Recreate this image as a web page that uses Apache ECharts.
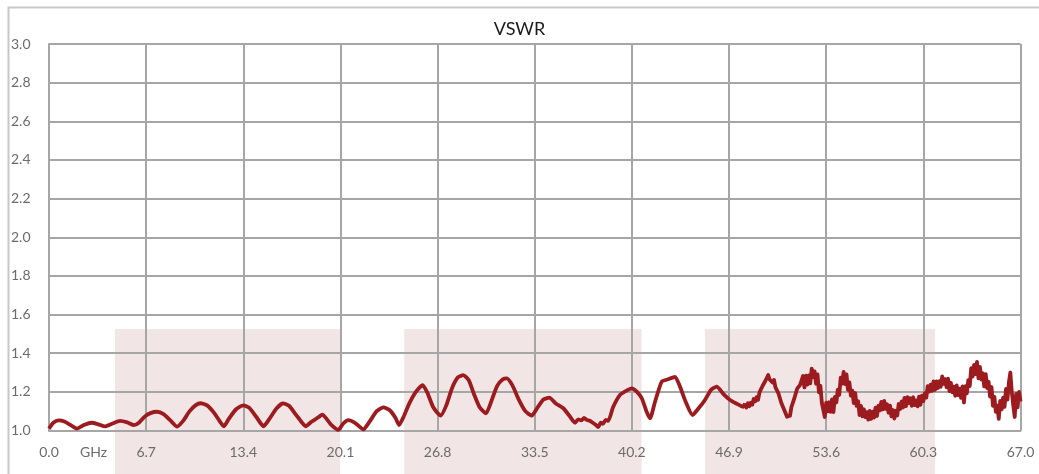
<!DOCTYPE html>
<html>
<head>
<meta charset="utf-8">
<title>VSWR</title>
<script src="https://cdn.jsdelivr.net/npm/echarts@6/dist/echarts.min.js"></script>
<style>
  html, body { margin: 0; padding: 0; background: #fff; }
  #chart { width: 1039px; height: 474px; }
</style>
</head>
<body>
<div id="chart"></div>
<script>
// x ticks (GHz)
var xTicks = [0.0, 6.7, 13.4, 20.1, 26.8, 33.5, 40.2, 46.9, 53.6, 60.3, 67.0];
// pink bands: [start GHz, end GHz, top VSWR]
var bands = [
  [4.55, 20.07, 1.525],
  [24.5, 40.87, 1.525],
  [45.24, 61.1, 1.525]
];
// measured VSWR read off the picture, [GHz, VSWR]
// lower part, fairly clean trace
var vswrLow = [
  [0.00,1.010],[0.30,1.040],[0.66,1.052],[1.10,1.045],[1.55,1.025],[1.93,1.010],[2.40,1.028],[2.94,1.040],
  [3.40,1.032],[3.86,1.021],[4.35,1.035],[4.90,1.050],[5.40,1.042],[5.86,1.028],[6.20,1.040],[6.60,1.072],
  [7.00,1.090],[7.45,1.097],[7.90,1.085],[8.40,1.050],[8.83,1.020],[9.25,1.050],[9.70,1.100],[10.10,1.130],
  [10.45,1.141],[10.90,1.130],[11.40,1.090],[11.80,1.045],[12.05,1.022],[12.40,1.060],[12.90,1.110],[13.40,1.130],
  [13.80,1.118],[14.30,1.070],[14.79,1.022],[15.20,1.060],[15.70,1.115],[16.14,1.140],[16.55,1.128],[17.00,1.085],
  [17.40,1.045],[17.70,1.022],[18.10,1.045],[18.60,1.070],[18.85,1.082],[19.15,1.060],[19.45,1.030],[19.95,1.003],
  [20.28,1.035],[20.64,1.054],[21.10,1.040],[21.68,1.006],[22.10,1.045],[22.60,1.100],[23.06,1.120],[23.50,1.105],
  [23.90,1.065],[24.14,1.028],[24.45,1.070],[24.85,1.140],[25.30,1.200],[25.77,1.235],[26.10,1.195],[26.50,1.120],
  [27.01,1.077],[27.40,1.130],[27.80,1.220],[28.20,1.275],[28.57,1.287],[28.95,1.260],[29.30,1.190],[29.70,1.120],
  [30.14,1.089],[30.50,1.150],[30.90,1.230],[31.30,1.265],[31.57,1.270],[31.95,1.235],[32.40,1.160],[32.85,1.100],
  [33.29,1.077],[33.70,1.120],[34.10,1.160],[34.50,1.170],[34.95,1.140],[35.47,1.115],[35.90,1.075],[36.28,1.040],
  [36.50,1.058],[36.70,1.052],[36.90,1.065],[37.08,1.055],[37.30,1.050],[37.50,1.040],[37.70,1.030],[37.88,1.018],
  [38.05,1.040],[38.20,1.035],[38.40,1.055],[38.57,1.050],[38.90,1.120],[39.38,1.184],
  [39.80,1.205],[40.19,1.218],[40.55,1.200],[40.88,1.167],[41.20,1.100],[41.45,1.063],[41.80,1.150],[42.26,1.253],
  [42.70,1.265],[43.17,1.278],[43.50,1.230],[43.90,1.150],[44.38,1.080],[44.80,1.115],[45.24,1.158],[45.65,1.210],
  [46.05,1.227],[46.50,1.190],[46.97,1.158],[47.40,1.140],[47.88,1.123],[48.00,1.140]
];
// upper part, noisy trace
var vswrHigh = [
  [48.0,1.140],[48.1,1.119],[48.2,1.141],[48.3,1.126],[48.4,1.144],[48.5,1.133],[48.6,1.163],[48.7,1.151],
  [48.8,1.172],[48.9,1.159],[49.0,1.197],[49.1,1.192],[49.2,1.229],[49.3,1.229],[49.4,1.256],[49.5,1.251],
  [49.6,1.287],[49.7,1.264],[49.8,1.273],[49.9,1.248],[50.0,1.262],[50.1,1.223],[50.2,1.227],[50.3,1.194],
  [50.4,1.185],[50.5,1.144],[50.6,1.144],[50.7,1.107],[50.8,1.105],[50.9,1.071],[51.0,1.074],[51.1,1.076],
  [51.2,1.121],[51.3,1.129],[51.4,1.166],[51.5,1.171],[51.6,1.217],[51.7,1.211],[51.8,1.236],[51.9,1.229],
  [52.0,1.282],[52.1,1.223],[52.2,1.284],[52.3,1.237],[52.4,1.285],[52.5,1.244],[52.6,1.320],[52.7,1.276],
  [52.8,1.306],[52.9,1.242],[53.0,1.290],[53.1,1.197],[53.2,1.231],[53.3,1.143],[53.4,1.151],[53.5,1.070],
  [53.6,1.144],[53.7,1.099],[53.8,1.146],[53.9,1.097],[54.0,1.161],[54.1,1.095],[54.2,1.174],[54.3,1.145],
  [54.4,1.211],[54.5,1.184],[54.6,1.273],[54.7,1.242],[54.8,1.303],[54.9,1.240],[55.0,1.290],[55.1,1.210],
  [55.2,1.249],[55.3,1.180],[55.4,1.206],[55.5,1.142],[55.6,1.194],[55.7,1.127],[55.8,1.151],[55.9,1.080],
  [56.0,1.127],[56.1,1.073],[56.2,1.110],[56.3,1.069],[56.4,1.095],[56.5,1.056],[56.6,1.101],[56.7,1.060],
  [56.8,1.098],[56.9,1.067],[57.0,1.118],[57.1,1.075],[57.2,1.128],[57.3,1.104],[57.4,1.148],[57.5,1.109],
  [57.6,1.153],[57.7,1.112],[57.8,1.136],[57.9,1.092],[58.0,1.129],[58.1,1.073],[58.2,1.106],[58.3,1.062],
  [58.4,1.102],[58.5,1.078],[58.6,1.137],[58.7,1.111],[58.8,1.150],[58.9,1.119],[59.0,1.169],[59.1,1.126],
  [59.2,1.173],[59.3,1.142],[59.4,1.167],[59.5,1.128],[59.6,1.172],[59.7,1.131],[59.8,1.155],[59.9,1.125],
  [60.0,1.175],[60.1,1.133],[60.2,1.180],[60.3,1.152],[60.4,1.193],[60.5,1.170],[60.6,1.230],[60.7,1.201],
  [60.8,1.237],[60.9,1.205],[61.0,1.254],[61.1,1.210],[61.2,1.254],[61.3,1.220],[61.4,1.255],[61.5,1.226],
  [61.6,1.280],[61.7,1.241],[61.8,1.266],[61.9,1.224],[62.0,1.268],[62.1,1.204],[62.2,1.247],[62.3,1.198],
  [62.4,1.227],[62.5,1.180],[62.6,1.233],[62.7,1.183],[62.8,1.217],[62.9,1.169],[63.0,1.228],[63.1,1.145],
  [63.2,1.230],[63.3,1.192],[63.4,1.261],[63.5,1.230],[63.6,1.323],[63.7,1.279],[63.8,1.340],[63.9,1.292],
  [64.0,1.355],[64.1,1.270],[64.2,1.329],[64.3,1.264],[64.4,1.296],[64.5,1.228],[64.6,1.292],[64.7,1.220],
  [64.8,1.252],[64.9,1.175],[65.0,1.225],[65.1,1.128],[65.2,1.174],[65.3,1.097],[65.4,1.129],[65.5,1.060],
  [65.6,1.153],[65.7,1.109],[65.8,1.170],[65.9,1.122],[66.0,1.215],[66.1,1.160],[66.2,1.249],[66.3,1.300],
  [66.4,1.200],[66.5,1.130],[66.6,1.070],[66.7,1.190],[66.8,1.120],[66.9,1.200],[67.0,1.150]
];

var font = 'Lato, "Open Sans", sans-serif';
var gridColor = '#a6a6a6';
var traceColor = '#9b1b1f';

var myChart = echarts.init(document.getElementById('chart'));
var option = {
  backgroundColor: '#fff',
  animation: false,
  title: {
    text: 'VSWR',
    left: 'center',
    top: 15,
    textStyle: { fontFamily: font, fontSize: 18, fontWeight: 'normal', color: '#1a1a1a' }
  },
  grid: { left: 49, right: 18.5, top: 44, bottom: 43.5 },
  xAxis: {
    type: 'value',
    min: 0,
    max: 67,
    interval: 6.7,
    axisLine: { show: true, lineStyle: { color: gridColor, width: 2 } },
    axisTick: { show: false },
    splitLine: { show: true, lineStyle: { color: gridColor, width: 2 } },
    axisLabel: {
      color: '#6b6b6b', fontFamily: font, fontSize: 14, margin: 15,
      showMaxLabel: true,
      formatter: function (v) { return v.toFixed(1); }
    }
  },
  yAxis: {
    type: 'value',
    min: 1.0,
    max: 3.0,
    interval: 0.2,
    axisLine: { show: true, lineStyle: { color: gridColor, width: 2 } },
    axisTick: { show: false },
    splitLine: { show: true, lineStyle: { color: gridColor, width: 2 } },
    axisLabel: {
      color: '#6b6b6b', fontFamily: font, fontSize: 14, margin: 38, align: 'left',
      formatter: function (v) { return v.toFixed(1); }
    }
  },
  graphic: [
    {
      type: 'rect', left: 6, top: 5, silent: true, z: -20,
      shape: { width: 1060, height: 500 },
      style: { fill: 'none', stroke: '#c8c8c8', lineWidth: 2 }
    },
    {
      type: 'text', left: 80, top: 445, silent: true,
      style: { text: 'GHz', fontFamily: font, fontSize: 14, fill: '#6b6b6b' }
    }
  ],
  series: [
    {
      name: 'bands',
      type: 'custom',
      clip: false,
      z: -1,
      silent: true,
      data: bands,
      renderItem: function (params, api) {
        var p0 = api.coord([api.value(0), api.value(2)]);
        var p1 = api.coord([api.value(1), 1.0]);
        return {
          type: 'rect',
          shape: { x: p0[0], y: p0[1], width: p1[0] - p0[0], height: api.getHeight() - p0[1] },
          style: { fill: '#f2e5e6' }
        };
      }
    },
    {
      name: 'VSWR',
      type: 'line',
      data: vswrLow,
      showSymbol: false,
      smooth: 0.2,
      lineStyle: { color: traceColor, width: 3.8 },
      z: 5
    },
    {
      name: 'VSWR ',
      type: 'line',
      data: vswrHigh,
      showSymbol: false,
      smooth: false,
      lineStyle: { color: traceColor, width: 3.8, join: 'round' },
      z: 5
    }
  ]
};
option && myChart.setOption(option);
</script>
</body>
</html>
